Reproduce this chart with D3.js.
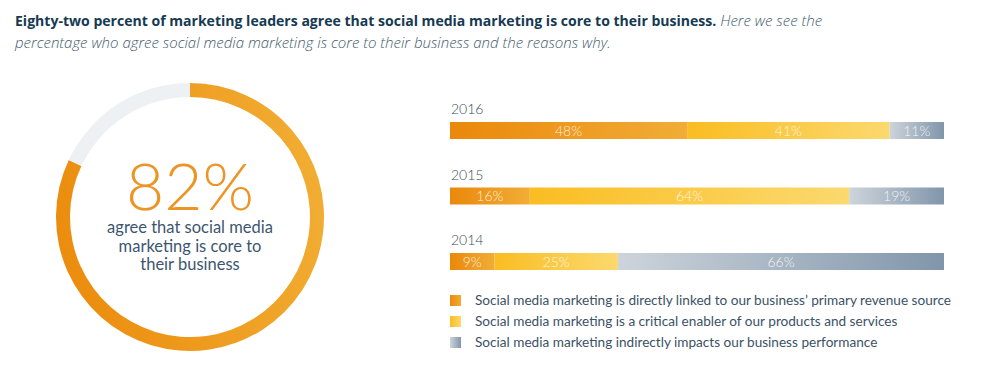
<!DOCTYPE html>
<html lang="en">
<head>
  <meta charset="UTF-8" />
  <title>Social media marketing is core</title>
  <script src="https://d3js.org/d3.v7.min.js"></script>
  <style>
    body {
      margin: 0;
      background: #fff;
      overflow: hidden;
    }
    text { font-family: Lato, "Open Sans", sans-serif; }
    .title-bold { font-family: "Open Sans", sans-serif; font-weight: 700; fill: #163a52; font-size: 14.05px; }
    .title-it { font-family: "Open Sans", sans-serif; font-style: italic; font-weight: 300; fill: #3f5b6e; font-size: 15px; }
    .year { fill: #3b4b58; font-size: 14px; font-weight: 300; }
    .seg-label { fill: #fff; fill-opacity: 0.85; font-size: 14px; font-weight: 300; }
    .legend text { fill: #3b5266; font-size: 13.6px; }
  </style>
</head>
<body>
<svg width="983" height="376"></svg>
<script>
// data
const coreShare = 82;
const years = ["2016", "2015", "2014"];
const directlyLinked = [48, 16, 9];
const criticalEnabler = [41, 64, 25];
const indirectImpact = [11, 19, 66];
const legendLabels = [
  "Social media marketing is directly linked to our business\u2019 primary revenue source",
  "Social media marketing is a critical enabler of our products and services",
  "Social media marketing indirectly impacts our business performance"
];

const svg = d3.select("svg");
const defs = svg.append("defs");

// gradients for the three reasons
const gradStops = [
  ["#ea880b", "#f1ad36"],
  ["#fabd22", "#fbd96f"],
  ["#cdd4db", "#8196ab"]
];
gradStops.forEach((s, i) => {
  const g = defs.append("linearGradient").attr("id", "grad" + i)
    .attr("x1", 0).attr("x2", 1).attr("y1", 0).attr("y2", 0);
  g.append("stop").attr("offset", 0).attr("stop-color", s[0]);
  g.append("stop").attr("offset", 1).attr("stop-color", s[1]);
});
const ringGrad = defs.append("linearGradient").attr("id", "ringGrad")
  .attr("x1", 0).attr("x2", 1).attr("y1", 0.6).attr("y2", 0.4);
ringGrad.append("stop").attr("offset", 0).attr("stop-color", "#eb8c0d");
ringGrad.append("stop").attr("offset", 1).attr("stop-color", "#f1ad33");

// title
const title = svg.append("text").attr("x", 15).attr("y", 26);
title.append("tspan").attr("class", "title-bold")
  .text("Eighty-two percent of marketing leaders agree that social media marketing is core to their business.");
title.append("tspan").attr("class", "title-it").text(" Here we see the");
svg.append("text").attr("class", "title-it").attr("x", 15).attr("y", 48)
  .text("percentage who agree social media marketing is core to their business and the reasons why.");

// donut
const cx = 190, cy = 217, rOuter = 134, rInner = 120;
const donut = svg.append("g").attr("transform", `translate(${cx},${cy})`);
const pie = d3.pie().sort(null).value(d => d.v);
const arcs = pie([{ v: coreShare, k: "yes" }, { v: 100 - coreShare, k: "no" }]);
const arc = d3.arc().innerRadius(rInner).outerRadius(rOuter);
donut.selectAll("path").data(arcs).join("path")
  .attr("d", arc)
  .attr("fill", d => d.data.k === "yes" ? "url(#ringGrad)" : "#eef1f3");

donut.append("text").attr("text-anchor", "middle").attr("y", -7)
  .style("font-size", "66px").style("font-weight", 300).style("fill", "#ec9424")
  .text(coreShare + "%");
["agree that social media", "marketing is core to", "their business"].forEach((t, i) => {
  donut.append("text").attr("text-anchor", "middle").attr("y", 16 + i * 18.5)
    .style("font-size", "16.5px").style("fill", "#3d5670").text(t);
});

// stacked bars
const x0 = 450, x1 = 944;
const y = d3.scaleBand().domain(years).range([122, 270]).paddingInner(0.7405).paddingOuter(0);
const barH = y.bandwidth();
const rows = years.map((yr, i) => ({
  year: yr,
  vals: [directlyLinked[i], criticalEnabler[i], indirectImpact[i]]
}));

const rowG = svg.selectAll(".row").data(rows).join("g").attr("class", "row")
  .attr("transform", d => `translate(0,${y(d.year)})`);

rowG.append("text").attr("class", "year").attr("x", x0 + 1).attr("y", -8).text(d => d.year);

rowG.each(function (d) {
  const xs = d3.scaleLinear().domain([0, d3.sum(d.vals)]).range([x0, x1]);
  const segs = d3.stack().keys([0, 1, 2])([d.vals])
    .map((s, k) => ({ k, v: d.vals[k], a: s[0][0], b: s[0][1] }));
  const g = d3.select(this);
  g.selectAll("rect").data(segs).join("rect")
    .attr("x", s => xs(s.a)).attr("width", s => xs(s.b) - xs(s.a))
    .attr("y", 0).attr("height", barH)
    .attr("fill", s => `url(#grad${s.k})`);
  g.selectAll(".seg-label").data(segs).join("text").attr("class", "seg-label")
    .attr("x", s => (xs(s.a) + xs(s.b)) / 2).attr("y", barH / 2 + 5)
    .attr("text-anchor", "middle")
    .text(s => s.v + "%");
});

// legend
const legend = svg.append("g").attr("class", "legend");
const ly = d3.scalePoint().domain(d3.range(legendLabels.length)).range([300, 342]);
legendLabels.forEach((t, i) => {
  legend.append("rect").attr("x", 450).attr("y", ly(i) - 5).attr("width", 11).attr("height", 11)
    .attr("fill", `url(#grad${i})`);
  legend.append("text").attr("x", 475).attr("y", ly(i) + 5).text(t);
});
</script>
</body>
</html>
